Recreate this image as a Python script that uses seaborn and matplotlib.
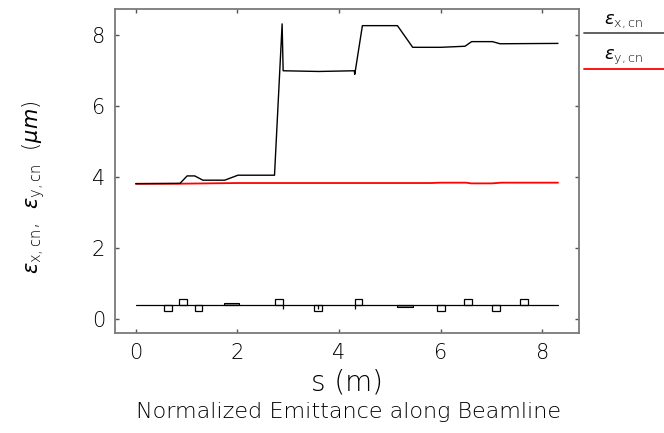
import numpy as np
import pandas as pd
import matplotlib
matplotlib.use("Agg")
import matplotlib.pyplot as plt
from matplotlib.lines import Line2D
import seaborn as sns

# ---- data ----
s_x = [0.0, 0.87, 1.01, 1.16, 1.32, 1.75, 2.01, 2.73, 2.88, 2.90, 3.60, 4.30, 4.31, 4.46, 5.15, 5.45, 6.00, 6.48, 6.61, 7.02, 7.17, 8.31]
eps_x = [3.82, 3.83, 4.04, 4.04, 3.92, 3.92, 4.06, 4.06, 8.32, 7.00, 6.98, 7.00, 6.90, 8.27, 8.27, 7.66, 7.66, 7.69, 7.82, 7.82, 7.76, 7.77]

s_y = [0.0, 0.80, 2.00, 5.80, 6.00, 6.50, 6.60, 7.00, 7.20, 8.31]
eps_y = [3.82, 3.82, 3.84, 3.84, 3.85, 3.85, 3.83, 3.83, 3.85, 3.85]

# lattice (beamline elements) drawn near the bottom
lattice_s = [0.0, 8.31]
lattice_level = 0.40
quad_start = [0.56, 0.85, 1.16, 2.74, 3.51, 4.31, 5.92, 6.46, 7.01, 7.57]
quad_end = [0.72, 1.01, 1.31, 2.89, 3.67, 4.46, 6.08, 6.62, 7.17, 7.72]
quad_sign = [-1, 1, -1, 1, -1, 1, -1, 1, -1, 1]
bend_start = [1.74, 5.15]
bend_end = [2.03, 5.46]
bend_sign = [1, -1]
kick_s = [2.89, 3.59, 4.31]

x_ticks = [0, 2, 4, 6, 8]
y_ticks = [0, 2, 4, 6, 8]

# ---- plot ----
sns.set_style("ticks")
plt.rcParams["font.family"] = ["DejaVu Sans"]
plt.rcParams["font.weight"] = "light"
plt.rcParams["axes.labelweight"] = "light"
plt.rcParams["mathtext.fontset"] = "custom"
plt.rcParams["mathtext.rm"] = "DejaVu Sans:light"
plt.rcParams["mathtext.it"] = "DejaVu Sans:italic"
plt.rcParams["mathtext.bf"] = "DejaVu Sans:bold"
plt.rcParams["text.color"] = "black"
plt.rcParams["axes.labelcolor"] = "black"
plt.rcParams["xtick.color"] = "black"
plt.rcParams["ytick.color"] = "black"

fig = plt.figure(figsize=(6.64, 4.33), dpi=100)
ax = fig.add_axes([115 / 664, 1 - 333.3 / 433, (579.3 - 115) / 664, (333.3 - 9.3) / 433])

df_x = pd.DataFrame({"s": s_x, "eps": eps_x})
df_y = pd.DataFrame({"s": s_y, "eps": eps_y})
sns.lineplot(data=df_y, x="s", y="eps", estimator=None, sort=False, color="red", lw=1.3, ax=ax)
sns.lineplot(data=df_x, x="s", y="eps", estimator=None, sort=False, color="black", lw=1.0, ax=ax)

# lattice
ax.plot(lattice_s, [lattice_level] * 2, color="black", lw=0.9)
qh = 0.17
q_center = [(a + b) / 2 for a, b in zip(quad_start, quad_end)]
q_width = [b - a for a, b in zip(quad_start, quad_end)]
ax.bar(q_center, [qh * sg for sg in quad_sign], width=q_width, bottom=lattice_level,
       fill=False, edgecolor="black", linewidth=0.9)
b_center = [(a + b) / 2 for a, b in zip(bend_start, bend_end)]
b_width = [b - a for a, b in zip(bend_start, bend_end)]
ax.bar(b_center, [0.05 * sg for sg in bend_sign], width=b_width, bottom=lattice_level,
       color="#888888", edgecolor="black", linewidth=0.8)
ax.vlines(kick_s, lattice_level - 0.12, lattice_level + 0.0, color="black", lw=0.9)

ax.set_xlim(-0.41, 8.73)
ax.set_ylim(-0.39, 8.73)
ax.set_xticks(x_ticks)
ax.set_yticks(y_ticks)
ax.set_xticklabels([str(v) for v in x_ticks])
ax.set_yticklabels([str(v) for v in y_ticks])
ax.tick_params(direction="in", length=3, width=1, top=True, right=True,
               labelsize=15, pad=7, color="#555555", labelcolor="black")
for sp in ax.spines.values():
    sp.set_color("#7a7a7a")
    sp.set_linewidth(1.3)

ax.set_xlabel("s (m)", fontsize=20, labelpad=4, fontweight="light")
ax.set_ylabel(r"$\varepsilon_{\mathrm{x,cn}}$,  $\varepsilon_{\mathrm{y,cn}}$  ($\mu m$)", fontsize=15)
ax.yaxis.set_label_coords(-0.147, 0.45)

fig.text(348 / 664, 1 - 412 / 433, "Normalized Emittance along Beamline", fontsize=16,
         ha="center", va="center")

# legend outside on the right
fig.text(624 / 664, 1 - 21 / 433, r"$\varepsilon_{\mathrm{x,cn}}$", fontsize=13, ha="center", va="center")
fig.text(624 / 664, 1 - 57 / 433, r"$\varepsilon_{\mathrm{y,cn}}$", fontsize=13, ha="center", va="center")
fig.add_artist(Line2D([584 / 664, 1.0], [1 - 32.5 / 433] * 2, color="#555555", lw=1.3, transform=fig.transFigure))
fig.add_artist(Line2D([584 / 664, 1.0], [1 - 69 / 433] * 2, color="red", lw=1.3, transform=fig.transFigure))

fig.savefig("out.png", dpi=100)
